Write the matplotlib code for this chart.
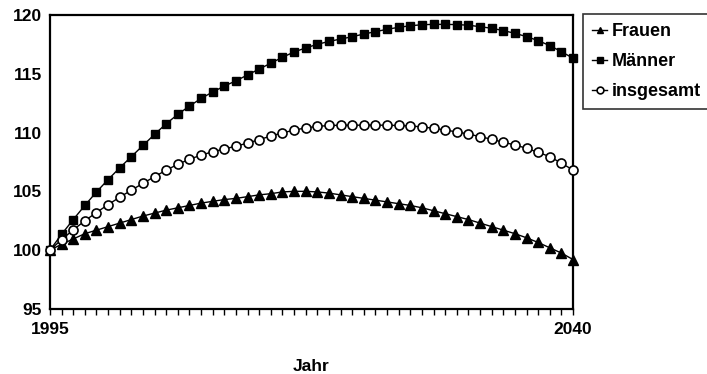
import numpy as np
import matplotlib
matplotlib.use('Agg')
from matplotlib import pyplot as plt

plt.rcParams['font.family'] = ['Liberation Sans', 'DejaVu Sans']

years = list(range(1995, 2041))

frauen = [100.0, 100.5, 100.95, 101.4, 101.7, 102.0, 102.3, 102.6, 102.9, 103.15,
          103.4, 103.6, 103.8, 104.0, 104.15, 104.3, 104.4, 104.55, 104.7, 104.8,
          104.95, 105.0, 105.0, 104.95, 104.85, 104.7, 104.55, 104.4, 104.25, 104.1,
          103.95, 103.8, 103.6, 103.35, 103.1, 102.85, 102.6, 102.3, 102.0, 101.7,
          101.4, 101.05, 100.65, 100.2, 99.75, 99.2]

maenner = [100.0, 101.35, 102.6, 103.8, 104.95, 106.0, 107.0, 107.95, 108.9, 109.85,
           110.75, 111.55, 112.25, 112.9, 113.45, 113.95, 114.4, 114.9, 115.4, 115.9,
           116.4, 116.85, 117.2, 117.5, 117.75, 117.95, 118.15, 118.38, 118.58, 118.78,
           118.95, 119.08, 119.17, 119.2, 119.2, 119.18, 119.13, 119.0, 118.87, 118.67,
           118.44, 118.16, 117.82, 117.39, 116.88, 116.32]

insgesamt = [100.0, 100.9, 101.72, 102.5, 103.2, 103.87, 104.5, 105.1, 105.68, 106.25,
             106.8, 107.3, 107.73, 108.08, 108.37, 108.6, 108.85, 109.1, 109.4, 109.7,
             109.98, 110.2, 110.4, 110.52, 110.6, 110.62, 110.62, 110.63, 110.63, 110.62,
             110.6, 110.56, 110.48, 110.36, 110.22, 110.05, 109.88, 109.65, 109.43, 109.17,
             108.95, 108.66, 108.32, 107.95, 107.39, 106.82]

fig = plt.figure(figsize=(7.07, 3.74), dpi=100)
ax = fig.add_axes([0.0707, 0.174, 0.7398, 0.786])

ax.plot(years, frauen, color='black', lw=1.0, marker='^', ms=6.5,
        label='Frauen', clip_on=False, zorder=3)
ax.plot(years, maenner, color='black', lw=1.0, marker='s', ms=6,
        label='Männer', clip_on=False, zorder=3)
ax.plot(years, insgesamt, color='black', lw=1.0, marker='o', ms=6.5,
        mfc='white', mew=1.2, label='insgesamt', clip_on=False, zorder=3)

ax.set_xlim(1995, 2040)
ax.set_ylim(95, 120)
ax.set_xticks(years)
ax.set_xticklabels([str(y) if y in (1995, 2040) else '' for y in years])
ax.set_yticks(range(95, 121, 5))
ax.tick_params(axis='x', direction='out', length=4.5, width=1, labelsize=12.5, pad=5)
ax.tick_params(axis='y', length=0, labelsize=12.5, pad=6)
for lbl in ax.get_xticklabels() + ax.get_yticklabels():
    lbl.set_fontweight('bold')

for s in ax.spines.values():
    s.set_linewidth(1.6)

ax.set_xlabel('Jahr', fontsize=12.5, fontweight='bold', labelpad=16)

leg = ax.legend(loc='upper left', bbox_to_anchor=(1.019, 1.002), frameon=True,
                fancybox=False, edgecolor='black',
                prop={'size': 13, 'weight': 'bold'},
                handlelength=0.85, handletextpad=0.22, labelspacing=0.72,
                borderpad=0.5, borderaxespad=0, markerscale=0.75)
leg.get_frame().set_linewidth(1.2)

plt.savefig('out.png', dpi=100)
